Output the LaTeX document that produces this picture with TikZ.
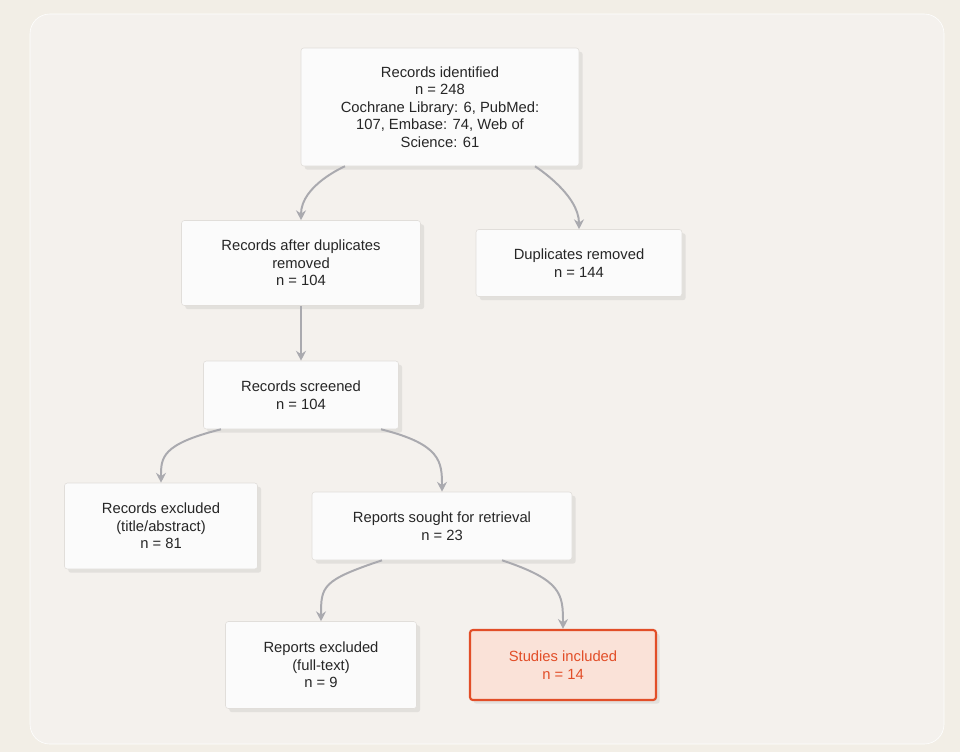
\documentclass[tikz,border=0pt]{standalone}
\usepackage{fontspec}
\setmainfont{Liberation Sans}
\usepackage{tikz}
\usetikzlibrary{arrows.meta,shadows}
\definecolor{bgpaper}{RGB}{242,238,230}
\definecolor{panel}{RGB}{244,241,237}
\definecolor{boxline}{RGB}{225,222,218}
\definecolor{arrowgray}{RGB}{170,170,175}
\definecolor{hot}{RGB}{226,78,40}
\definecolor{hotfill}{RGB}{250,226,216}
\begin{document}
\begin{tikzpicture}[x=0.025cm,y=-0.025cm]
\tikzset{stage/.style={draw=boxline,fill=white!97!gray,rounded corners=2pt,align=center,
  font=\fontsize{10.5}{12.5}\selectfont,text=black!85,drop shadow={opacity=0.15}},
  flow/.style={draw=arrowgray,line width=1.4pt,-{Stealth[length=7pt,width=7pt]}}}
\fill[bgpaper] (0,0) rectangle (960,752);
\filldraw[fill=panel,draw=white,rounded corners=14pt] (30,14) rectangle (944,744);
\node[stage,minimum width=278*0.025cm,minimum height=118*0.025cm] (ident) at (440,107)
  {Records identified\\n = 248\\Cochrane Library: 6, PubMed:\\107, Embase: 74, Web of\\Science: 61};
\node[stage,minimum width=239*0.025cm,minimum height=85*0.025cm] (afterdup) at (301,263)
  {Records after duplicates\\removed\\n = 104};
\node[stage,minimum width=206*0.025cm,minimum height=67*0.025cm] (dup) at (579,263)
  {Duplicates removed\\n = 144};
\node[stage,minimum width=195*0.025cm,minimum height=68*0.025cm] (screen) at (301,395)
  {Records screened\\n = 104};
\node[stage,minimum width=193*0.025cm,minimum height=86*0.025cm] (excl) at (161,526)
  {Records excluded\\(title/abstract)\\n = 81};
\node[stage,minimum width=260*0.025cm,minimum height=68*0.025cm] (sought) at (442,526)
  {Reports sought for retrieval\\n = 23};
\node[stage,minimum width=191*0.025cm,minimum height=87*0.025cm] (repexcl) at (321,665)
  {Reports excluded\\(full-text)\\n = 9};
\node[stage,draw=hot,line width=1.5pt,fill=hotfill,text=hot,minimum width=186*0.025cm,
  minimum height=70*0.025cm,drop shadow={opacity=0.3,shadow xshift=0pt,shadow yshift=0pt,fill=hot!60}]
  (incl) at (563,665) {Studies included\\n = 14};
% connectors
\draw[flow] (ident.south) ++(-95,0) .. controls +(0,0) and +(0,-35) .. (afterdup.north);
\draw[flow] (ident.south) ++(95,0) .. controls +(0,0) and +(0,-35) .. (dup.north);
\draw[flow] (afterdup) -- (screen);
\draw[flow] (screen.south) ++(-80,0) .. controls +(-60,15) and +(0,-25) .. (excl.north);
\draw[flow] (screen.south) ++(80,0) .. controls +(60,15) and +(0,-30) .. (sought.north);
\draw[flow] (sought.south) ++(-60,0) .. controls +(-60,20) and +(0,-35) .. (repexcl.north);
\draw[flow] (sought.south) ++(60,0) .. controls +(60,20) and +(0,-35) .. (incl.north);
\end{tikzpicture}
\end{document}
